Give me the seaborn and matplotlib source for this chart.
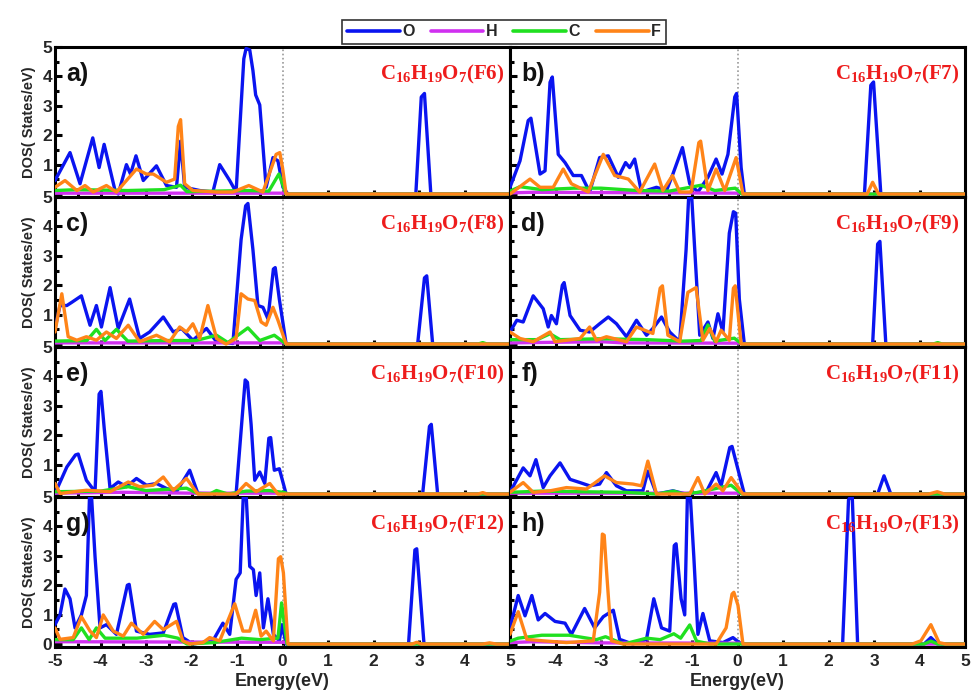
import numpy as np
import pandas as pd
import matplotlib
matplotlib.use("Agg")
import matplotlib.pyplot as plt
from matplotlib.lines import Line2D
from matplotlib.ticker import MultipleLocator
import seaborn as sns

sns.set_theme(style="white")
plt.rcParams['font.family'] = ['Liberation Sans', 'DejaVu Sans']
plt.rcParams['mathtext.fontset'] = 'custom'
plt.rcParams['mathtext.bf'] = 'Liberation Serif:bold'
plt.rcParams['mathtext.rm'] = 'Liberation Serif:bold'

# ---------------- data: (energy eV, DOS) ----------------
elements = ["O", "H", "C", "F"]
colors = ["#0a14f0", "#d030f0", "#20e020", "#ff8418"]
panel_letters = ["a)", "b)", "c)", "d)", "e)", "f)", "g)", "h)"]
formula_tags = ["F6", "F7", "F8", "F9", "F10", "F11", "F12", "F13"]
x_ticks = [-5, -4, -3, -2, -1, 0, 1, 2, 3, 4, 5]
y_ticks = [0, 1, 2, 3, 4, 5]

a_O = [(-5, 0.46), (-4.67, 1.41), (-4.45, 0.35), (-4.17, 1.91), (-4.03, 0.9), (-3.92, 1.69),
       (-3.68, 0.12), (-3.61, 0.0), (-3.43, 1.0), (-3.34, 0.68), (-3.22, 1.3), (-3.06, 0.46),
       (-2.77, 0.96), (-2.55, 0.29), (-2.33, 0.23), (-2.24, 1.8), (-2.15, 0.23), (-1.82, 0.12),
       (-1.53, 0.07), (-1.38, 1.0), (-1.16, 0.46), (-1.02, 0.07), (-0.85, 4.6), (-0.80, 4.95),
       (-0.72, 4.9), (-0.65, 4.2), (-0.59, 3.37), (-0.50, 3.03), (-0.36, 0.23), (-0.21, 1.24),
       (-0.10, 1.13), (0.01, 0.23), (0.12, 0.0), (2.93, 0.0), (3.05, 3.3), (3.12, 3.42),
       (3.26, 0.0), (5, 0.0)]
a_H = [(-5, 0.03), (0.05, 0.03), (0.15, 0.0), (5, 0.0)]
a_C = [(-5, 0.12), (-4.5, 0.15), (-3.4, 0.12), (-2.6, 0.15), (-2.24, 0.3), (-2.1, 0.08),
       (-1.5, 0.1), (-0.75, 0.12), (-0.3, 0.1), (-0.08, 0.68), (0.08, 0.0), (5, 0.0)]
a_F = [(-5, 0.23), (-4.78, 0.46), (-4.52, 0.12), (-4.34, 0.29), (-4.16, 0.07), (-3.87, 0.29),
       (-3.65, 0.07), (-3.43, 0.46), (-3.21, 0.85), (-2.99, 0.68), (-2.84, 0.68), (-2.55, 0.4),
       (-2.37, 0.51), (-2.29, 2.3), (-2.24, 2.53), (-2.15, 0.35), (-1.97, 0.12), (-1.45, 0.07),
       (-1.09, 0.07), (-0.74, 0.29), (-0.43, 0.07), (-0.14, 1.35), (-0.06, 1.41), (0.0, 0.9),
       (0.08, 0.0), (5, 0.0)]

b_O = [(-5, 0.23), (-4.78, 1.13), (-4.60, 2.5), (-4.54, 2.58), (-4.34, 0.68), (-4.23, 0.79),
       (-4.12, 3.8), (-4.07, 3.98), (-3.94, 1.35), (-3.79, 1.07), (-3.61, 0.63), (-3.43, 0.63),
       (-3.25, 0.07), (-3.03, 1.24), (-2.84, 1.3), (-2.62, 0.57), (-2.46, 1.07), (-2.37, 0.9),
       (-2.26, 1.19), (-2.11, 0.07), (-1.78, 0.23), (-1.56, 0.12), (-1.42, 0.68), (-1.21, 1.58),
       (-1.05, 0.35), (-0.87, 0.07), (-0.65, 0.57), (-0.47, 1.19), (-0.34, 0.68), (-0.21, 1.35),
       (-0.06, 3.3), (-0.02, 3.42), (0.08, 0.9), (0.15, 0.0), (2.79, 0.0), (2.93, 3.7),
       (2.99, 3.81), (3.15, 0.0), (5, 0.0)]
b_H = [(-5, 0.04), (-4.5, 0.06), (-3.0, 0.05), (0.05, 0.03), (0.15, 0.0), (5, 0.0)]
b_C = [(-5, 0.1), (-4.78, 0.25), (-4.3, 0.15), (-3.6, 0.2), (-3.0, 0.2), (-2.2, 0.12),
       (-1.5, 0.1), (-0.8, 0.3), (-0.5, 0.12), (-0.05, 0.2), (0.1, 0.0), (5, 0.0)]
b_F = [(-5, 0.0), (-4.56, 0.51), (-4.34, 0.23), (-4.05, 0.23), (-3.83, 0.85), (-3.65, 0.35),
       (-3.28, 0.07), (-2.95, 1.35), (-2.70, 0.63), (-2.40, 0.51), (-2.15, 0.07), (-1.82, 1.02),
       (-1.64, 0.12), (-1.43, 0.63), (-1.27, 0.07), (-1.02, 0.07), (-0.85, 1.75), (-0.81, 1.8),
       (-0.65, 0.12), (-0.47, 0.85), (-0.28, 0.12), (-0.03, 1.24), (0.12, 0.0), (2.85, 0.0),
       (2.97, 0.4), (3.1, 0.0), (5, 0.0)]

c_O = [(-5, 0.53), (-4.89, 1.31), (-4.74, 1.31), (-4.63, 1.42), (-4.42, 1.64), (-4.23, 0.64),
       (-4.09, 1.31), (-3.98, 0.58), (-3.79, 1.92), (-3.61, 0.53), (-3.36, 1.53), (-3.14, 0.19),
       (-2.92, 0.41), (-2.62, 0.92), (-2.40, 0.41), (-2.22, 0.53), (-1.97, 0.13), (-1.67, 0.53),
       (-1.45, 0.08), (-1.09, 0.02), (-0.91, 3.55), (-0.81, 4.7), (-0.76, 4.78), (-0.65, 3.21),
       (-0.54, 1.31), (-0.43, 1.25), (-0.32, 0.86), (-0.20, 2.55), (-0.16, 2.6), (-0.07, 1.53),
       (0.08, 0.0), (2.97, 0.0), (3.12, 2.25), (3.17, 2.32), (3.30, 0.0), (5, 0.0)]
c_H = [(-5, 0.04), (0.05, 0.04), (0.15, 0.0), (5, 0.0)]
c_C = [(-5, 0.1), (-4.3, 0.12), (-4.09, 0.5), (-3.9, 0.12), (-3.65, 0.5), (-3.4, 0.1),
       (-2.5, 0.12), (-1.9, 0.12), (-1.45, 0.3), (-1.2, 0.05), (-0.76, 0.55), (-0.5, 0.12),
       (-0.18, 0.3), (0.08, 0.0), (4.3, 0.0), (4.4, 0.05), (4.5, 0.0), (5, 0.0)]
c_F = [(-5, 0.41), (-4.85, 1.71), (-4.71, 0.25), (-4.52, 0.13), (-4.31, 0.25), (-4.09, 0.13),
       (-3.87, 0.41), (-3.65, 0.19), (-3.39, 0.64), (-3.14, 0.08), (-2.77, 0.3), (-2.48, 0.08),
       (-2.26, 0.58), (-2.11, 0.41), (-1.97, 0.69), (-1.82, 0.19), (-1.64, 1.31), (-1.45, 0.19),
       (-1.24, 0.0), (-1.02, 0.19), (-0.91, 1.71), (-0.76, 1.53), (-0.61, 1.48), (-0.47, 0.75),
       (-0.36, 0.64), (-0.21, 1.25), (-0.10, 0.81), (0.08, 0.0), (5, 0.0)]

d_O = [(-5, 0.41), (-4.85, 0.81), (-4.71, 0.75), (-4.49, 1.64), (-4.27, 1.2), (-4.16, 0.58),
       (-4.09, 0.97), (-3.98, 0.69), (-3.85, 2.0), (-3.81, 2.09), (-3.68, 0.97), (-3.46, 0.47),
       (-3.25, 0.41), (-3.03, 0.69), (-2.84, 0.92), (-2.66, 0.69), (-2.44, 0.25), (-2.22, 0.81),
       (-2.0, 0.3), (-1.86, 0.53), (-1.67, 0.92), (-1.49, 0.41), (-1.27, 0.08), (-1.13, 3.21),
       (-1.07, 5.1), (-1.01, 5.1), (-0.94, 3.21), (-0.83, 0.3), (-0.65, 0.75), (-0.54, 0.19),
       (-0.43, 1.03), (-0.32, 0.41), (-0.18, 3.77), (-0.09, 4.5), (-0.04, 4.45), (0.04, 1.53),
       (0.15, 0.0), (2.97, 0.0), (3.08, 3.4), (3.13, 3.49), (3.26, 0.0), (5, 0.0)]
d_H = [(-5, 0.04), (-3.0, 0.08), (-2.5, 0.04), (0.05, 0.03), (0.15, 0.0), (5, 0.0)]
d_C = [(-5, 0.15), (-4.4, 0.15), (-4.12, 0.35), (-3.9, 0.15), (-3.0, 0.18), (-2.0, 0.15),
       (-1.2, 0.1), (-0.8, 0.12), (-0.65, 0.65), (-0.5, 0.1), (-0.07, 0.2), (0.1, 0.0),
       (4.3, 0.0), (4.4, 0.05), (4.5, 0.0), (5, 0.0)]
d_F = [(-5, 0.41), (-4.78, 0.19), (-4.49, 0.08), (-4.12, 0.41), (-4.01, 0.08), (-3.46, 0.19),
       (-3.25, 0.58), (-3.1, 0.13), (-2.88, 0.25), (-2.44, 0.08), (-2.22, 0.58), (-1.86, 0.36),
       (-1.70, 1.9), (-1.65, 1.98), (-1.53, 0.3), (-1.27, 0.08), (-1.09, 1.76), (-0.91, 1.92),
       (-0.76, 0.13), (-0.61, 0.53), (-0.47, 0.08), (-0.36, 0.47), (-0.18, 0.13), (-0.09, 1.9),
       (-0.05, 1.98), (0.08, 0.0), (5, 0.0)]

e_O = [(-5, 0.02), (-4.74, 0.92), (-4.55, 1.33), (-4.49, 1.36), (-4.31, 0.47), (-4.12, 0.08),
       (-4.03, 3.4), (-3.99, 3.49), (-3.92, 2.26), (-3.79, 0.19), (-3.61, 0.41), (-3.43, 0.25),
       (-3.21, 0.53), (-2.99, 0.3), (-2.77, 0.36), (-2.55, 0.19), (-2.33, 0.08), (-2.04, 0.81),
       (-1.86, 0.02), (-1.02, 0.0), (-0.87, 2.93), (-0.82, 3.88), (-0.77, 3.8), (-0.69, 2.37),
       (-0.61, 0.47), (-0.50, 0.75), (-0.39, 0.36), (-0.30, 1.9), (-0.26, 1.92), (-0.18, 0.81),
       (-0.07, 0.86), (0.08, 0.0), (3.08, 0.0), (3.23, 2.3), (3.27, 2.37), (3.41, 0.0), (5, 0.0)]
e_H = [(-5, 0.03), (-3.5, 0.06), (-2.0, 0.03), (0.05, 0.03), (0.15, 0.0), (5, 0.0)]
e_C = [(-5, 0.08), (-4.0, 0.1), (-3.39, 0.25), (-3.0, 0.12), (-2.11, 0.2), (-1.86, 0.02),
       (-1.6, 0.0), (-1.45, 0.12), (-1.2, 0.0), (-0.8, 0.1), (-0.3, 0.12), (0.05, 0.05),
       (0.12, 0.0), (5, 0.0)]
e_F = [(-5, 0.36), (-4.89, 0.02), (-4.31, 0.13), (-3.79, 0.08), (-3.39, 0.41), (-3.14, 0.25),
       (-2.84, 0.3), (-2.62, 0.58), (-2.40, 0.13), (-2.11, 0.53), (-1.86, 0.0), (-1.02, 0.0),
       (-0.80, 0.36), (-0.58, 0.08), (-0.28, 0.36), (-0.10, 0.0), (4.3, 0.0), (4.4, 0.05),
       (4.5, 0.0), (5, 0.0)]

f_O = [(-5, 0.06), (-4.71, 0.89), (-4.56, 0.62), (-4.43, 1.17), (-4.27, 0.22), (-4.12, 0.62),
       (-3.90, 1.06), (-3.68, 0.5), (-3.46, 0.39), (-3.25, 0.28), (-3.03, 0.34), (-2.88, 0.73),
       (-2.66, 0.28), (-2.44, 0.11), (-2.08, 0.11), (-1.97, 0.78), (-1.78, 0.0), (-1.42, 0.11),
       (-1.13, 0.0), (-0.69, 0.06), (-0.47, 0.73), (-0.36, 0.28), (-0.17, 1.58), (-0.12, 1.62),
       (0.01, 0.84), (0.15, 0.0), (3.08, 0.0), (3.22, 0.62), (3.37, 0.0), (5, 0.0)]
f_H = [(-5, 0.03), (0.05, 0.03), (0.15, 0.0), (5, 0.0)]
f_C = [(-5, 0.06), (-4.3, 0.1), (-3.5, 0.08), (-2.5, 0.06), (-1.78, 0.0), (-1.4, 0.1),
       (-1.2, 0.0), (-0.9, 0.05), (-0.14, 0.3), (0.1, 0.0), (5, 0.0)]
f_F = [(-5, 0.06), (-4.71, 0.39), (-4.49, 0.06), (-4.12, 0.11), (-3.76, 0.22), (-3.32, 0.17),
       (-2.92, 0.62), (-2.66, 0.39), (-2.30, 0.34), (-2.11, 0.28), (-1.97, 1.12), (-1.78, 0.0),
       (-1.05, 0.0), (-0.87, 0.56), (-0.72, 0.0), (-0.47, 0.34), (-0.32, 0.11), (-0.14, 0.56),
       (0.12, 0.0), (4.2, 0.0), (4.39, 0.08), (4.55, 0.0), (5, 0.0)]

g_O = [(-5, 0.66), (-4.89, 0.99), (-4.78, 1.87), (-4.67, 1.54), (-4.56, 0.55), (-4.42, 0.99),
       (-4.31, 1.65), (-4.24, 5.1), (-4.20, 5.1), (-4.12, 2.97), (-4.01, 0.55), (-3.87, 0.66),
       (-3.65, 0.33), (-3.41, 2.0), (-3.37, 2.03), (-3.21, 0.44), (-2.92, 0.33), (-2.62, 0.38),
       (-2.39, 1.35), (-2.35, 1.37), (-2.19, 0.22), (-1.97, 0.0), (-1.53, 0.11), (-1.31, 0.71),
       (-1.16, 0.33), (-1.02, 2.2), (-0.93, 2.42), (-0.86, 5.1), (-0.80, 5.1), (-0.72, 2.64),
       (-0.64, 2.53), (-0.58, 1.65), (-0.50, 2.42), (-0.42, 0.55), (-0.32, 1.54), (-0.20, 0.33),
       (-0.07, 0.11), (-0.01, 0.66), (0.08, 0.0), (2.77, 0.0), (2.91, 3.2), (2.95, 3.24),
       (3.11, 0.0), (5, 0.0)]
g_H = [(-5, 0.08), (0.05, 0.06), (0.15, 0.0), (5, 0.0)]
g_C = [(-5, 0.15), (-4.6, 0.15), (-4.42, 0.55), (-4.25, 0.15), (-4.09, 0.55), (-3.9, 0.2),
       (-3.2, 0.2), (-2.6, 0.3), (-2.3, 0.2), (-2.1, 0.0), (-1.5, 0.05), (-0.9, 0.2),
       (-0.5, 0.15), (-0.1, 0.2), (-0.02, 1.4), (0.1, 0.0), (5, 0.0)]
g_F = [(-5, 0.55), (-4.89, 0.16), (-4.60, 0.22), (-4.42, 0.93), (-4.23, 0.44), (-4.09, 0.22),
       (-3.94, 0.99), (-3.72, 0.44), (-3.50, 0.27), (-3.32, 0.71), (-3.06, 0.33), (-2.81, 0.77),
       (-2.62, 0.49), (-2.33, 0.77), (-2.19, 0.11), (-2.04, 0.0), (-1.75, 0.05), (-1.60, 0.22),
       (-1.38, 0.11), (-1.05, 1.37), (-0.87, 0.44), (-0.72, 0.44), (-0.59, 1.15), (-0.47, 0.27),
       (-0.36, 0.44), (-0.20, 0.11), (-0.09, 2.9), (-0.04, 2.97), (0.02, 2.42), (0.12, 0.0),
       (2.85, 0.0), (2.95, 0.06), (3.05, 0.0), (4.4, 0.0), (4.55, 0.04), (4.7, 0.0), (5, 0.0)]

h_O = [(-5, 0.55), (-4.82, 1.65), (-4.67, 0.96), (-4.52, 1.65), (-4.38, 0.82), (-4.23, 1.04),
       (-4.01, 0.77), (-3.79, 0.71), (-3.65, 0.33), (-3.36, 1.21), (-3.14, 0.55), (-2.95, 0.93),
       (-2.73, 1.15), (-2.59, 0.16), (-2.30, 0.0), (-2.00, 0.16), (-1.84, 1.54), (-1.67, 0.55),
       (-1.49, 0.44), (-1.39, 3.35), (-1.35, 3.41), (-1.24, 1.54), (-1.16, 0.99), (-1.10, 5.1),
       (-1.04, 5.1), (-0.96, 2.97), (-0.87, 0.33), (-0.76, 1.04), (-0.61, 0.11), (-0.32, 0.05),
       (-0.10, 0.22), (0.04, 0.05), (0.12, 0.0), (2.31, 0.0), (2.44, 4.9), (2.52, 5.1),
       (2.64, 0.0), (4.1, 0.0), (4.25, 0.22), (4.4, 0.0), (5, 0.0)]
h_H = [(-5, 0.05), (-4.5, 0.08), (-3.0, 0.04), (0.05, 0.03), (0.15, 0.0), (5, 0.0)]
h_C = [(-5, 0.1), (-4.82, 0.2), (-4.3, 0.3), (-3.7, 0.3), (-3.1, 0.15), (-2.9, 0.25),
       (-2.5, 0.0), (-2.0, 0.2), (-1.7, 0.15), (-1.4, 0.35), (-1.25, 0.2), (-1.05, 0.65),
       (-0.9, 0.1), (-0.6, 0.0), (4.1, 0.0), (4.25, 0.1), (4.4, 0.0), (5, 0.0)]
h_F = [(-5, 0.33), (-4.82, 1.1), (-4.63, 0.16), (-4.27, 0.11), (-3.76, 0.05), (-3.17, 0.11),
       (-3.03, 1.76), (-2.97, 3.74), (-2.93, 3.7), (-2.88, 2.53), (-2.77, 0.11), (-2.51, 0.0),
       (-0.47, 0.0), (-0.25, 0.55), (-0.12, 1.7), (-0.08, 1.76), (0.01, 1.32), (0.12, 0.0),
       (3.84, 0.0), (4.03, 0.11), (4.25, 0.66), (4.43, 0.05), (4.58, 0.0), (5, 0.0)]

panels = [
    (a_O, a_H, a_C, a_F), (b_O, b_H, b_C, b_F),
    (c_O, c_H, c_C, c_F), (d_O, d_H, d_C, d_F),
    (e_O, e_H, e_C, e_F), (f_O, f_H, f_C, f_F),
    (g_O, g_H, g_C, g_F), (h_O, h_H, h_C, h_F),
]

# ---------------- figure ----------------
W, H = 971, 692
fig = plt.figure(figsize=(W / 100, H / 100), dpi=100)
left_px, mid_px, right_px = 55, 510, 965
top_px, bot_px = 47, 647
row_h = (bot_px - top_px) / 4
palette = dict(zip(elements, colors))

for i, series in enumerate(panels):
    r, c = divmod(i, 2)
    x0 = left_px if c == 0 else mid_px
    x1 = mid_px if c == 0 else right_px
    y_top = top_px + r * row_h
    ax = fig.add_axes([x0 / W, 1 - (y_top + row_h) / H, (x1 - x0) / W, row_h / H])

    rows = []
    for el, pts in zip(elements, series):
        for e, v in pts:
            rows.append({"Energy": e, "DOS": v, "element": el})
    df = pd.DataFrame(rows)
    ax.axvline(0, color="#999999", ls=(0, (1, 1.5)), lw=1.2, zorder=1)
    sns.lineplot(data=df, x="Energy", y="DOS", hue="element", hue_order=elements,
                 palette=palette, estimator=None, sort=False, lw=2.4, legend=False,
                 ax=ax, zorder=3)

    ax.set_xlim(-5, 5)
    ax.set_ylim(-0.1, 5)
    ax.set_xlabel("")
    ax.set_ylabel("")
    ax.set_xticks(x_ticks)
    ax.set_yticks(y_ticks)
    ax.xaxis.set_minor_locator(MultipleLocator(0.5))
    ax.yaxis.set_minor_locator(MultipleLocator(0.5))
    ax.tick_params(which="both", direction="in", left=True, bottom=True,
                   top=False, right=False, color="black")
    ax.tick_params(which="major", length=5, width=2.2, labelsize=12.5)
    ax.tick_params(which="minor", length=3, width=2.2)
    ax.tick_params(axis="y", which="major", pad=2)
    ax.tick_params(axis="x", which="major", pad=5)
    for sp in ax.spines.values():
        sp.set_color("black")
        sp.set_linewidth(2.2)

    if c == 0:
        labs = [str(t) for t in y_ticks]
        if r < 3:
            labs[0] = ""
        ax.set_yticklabels(labs, fontweight="bold")
        ax.set_ylabel("DOS( States/eV)", fontsize=10.5, fontweight="bold", labelpad=5)
    else:
        ax.set_yticklabels([])

    if r == 3:
        xl = [str(t) for t in x_ticks]
        if c == 1:
            xl[0] = ""
        ax.set_xticklabels(xl, fontweight="bold")
        ax.set_xlabel("Energy(eV)", fontsize=13, fontweight="bold", labelpad=3)
    else:
        ax.set_xticklabels([])

    ax.text(0.025, 0.82, panel_letters[i], transform=ax.transAxes, fontsize=18,
            fontweight="bold", color="#111111", va="center", ha="left", zorder=5)
    ax.text(0.988, 0.82,
            r"$\mathbf{C_{16}H_{19}O_{7}(" + formula_tags[i] + r")}$",
            transform=ax.transAxes, fontsize=15, color="#ee1c1c",
            va="center", ha="right", zorder=5)

handles = [Line2D([0], [0], color=col, lw=2.6) for col in colors]
leg = fig.legend(handles, elements, loc="center", bbox_to_anchor=(504 / W, 1 - 32 / H),
                 ncol=4, frameon=True, fancybox=False, edgecolor="black",
                 handlelength=3.3, handletextpad=0.15, columnspacing=1.0,
                 borderpad=0.3, prop={"weight": "bold", "size": 11.5})
leg.get_frame().set_linewidth(1.2)

fig.savefig("out.png", dpi=100)
